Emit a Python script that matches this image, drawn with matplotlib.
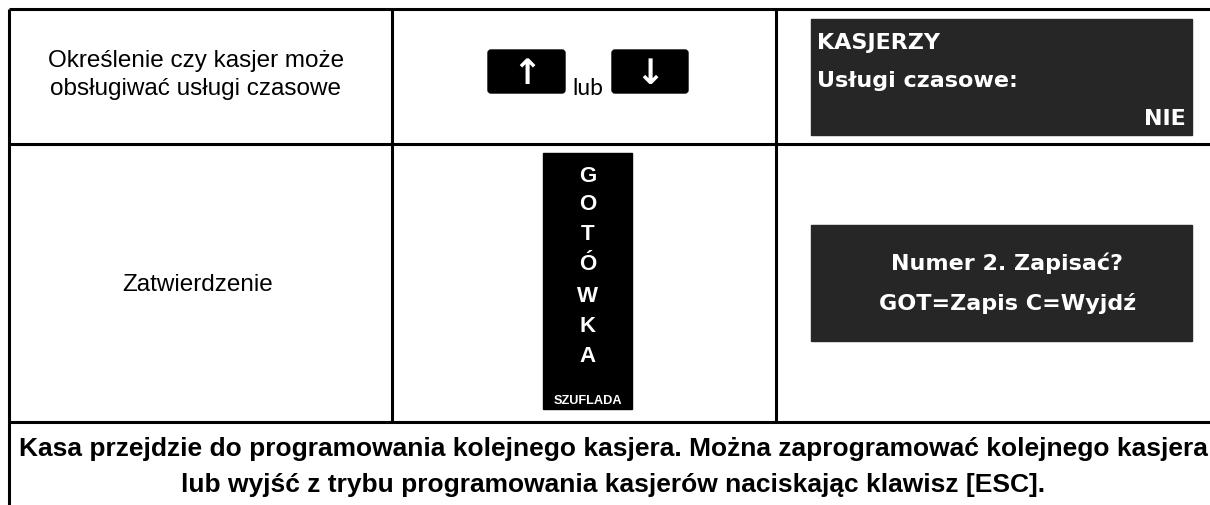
import matplotlib.pyplot as plt
import matplotlib.patches as mpatch

# table content
step_first = ['Określenie czy kasjer może', 'obsługiwać usługi czasowe']
step_second = 'Zatwierdzenie'
key_or = 'lub'
key_arrows = ['↑', '↓']
cash_key_letters = ['G', 'O', 'T', 'Ó', 'W', 'K', 'A']
cash_key_caption = 'SZUFLADA'
lcd_first = ['KASJERZY', 'Usługi czasowe:', 'NIE']
lcd_second = ['Numer 2. Zapisać?', 'GOT=Zapis C=Wyjdź']
footer = ['Kasa przejdzie do programowania kolejnego kasjera. '
          'Można zaprogramować kolejnego kasjera',
          'lub wyjść z trybu programowania kasjerów naciskając klawisz [ESC].']

W, H = 1210, 506
fig = plt.figure(figsize=(W / 100, H / 100), dpi=100)
ax = fig.add_axes([0, 0, 1, 1])
ax.set_xlim(0, W)
ax.set_ylim(H, 0)
ax.axis('off')

arial = 'Liberation Sans'
lcd_font = 'DejaVu Sans'
lcd_bg = '#262626'
lw = 2.2

# grid lines
left, top = 8.5, 10
col1, col2 = 392, 776
row1, row2 = 145, 423
ax.plot([left, W], [top, top], color='black', lw=lw, solid_capstyle='butt')
ax.plot([left, left], [top, H], color='black', lw=lw, solid_capstyle='butt')
for x in (col1, col2):
    ax.plot([x, x], [top, row2], color='black', lw=lw, solid_capstyle='butt')
for y in (row1, row2):
    ax.plot([left, W], [y, y], color='black', lw=lw, solid_capstyle='butt')

# left column
for line, y in zip(step_first, [67, 95]):
    ax.text(196, y, line, family=arial, fontsize=17.5, ha='center',
            va='baseline')
ax.text(198, 291, step_second, family=arial, fontsize=17.5, ha='center',
        va='baseline')

# arrow keys
for (x0, x1), arrow in zip([(488, 565), (612, 688)], key_arrows):
    box = mpatch.FancyBboxPatch((x0, 51), x1 - x0, 43,
                                boxstyle='round,pad=0,rounding_size=3',
                                color='black')
    ax.add_patch(box)
    ax.text((x0 + x1) / 2, 74, arrow, family='DejaVu Sans', weight='bold',
            fontsize=25, color='white', ha='center', va='center')
ax.text(572, 95, key_or, family='Lato', fontsize=16.5, ha='left',
        va='baseline')

# cash key
ax.add_patch(mpatch.Rectangle((543, 154), 89, 256, color='black'))
letter_y = [176, 205, 234, 264, 296, 326, 357]
for ch, y in zip(cash_key_letters, letter_y):
    ax.text(587.5, y, ch, family=arial, weight='bold', fontsize=16,
            color='white', ha='center', va='center')
ax.text(587.5, 401, cash_key_caption, family=arial, weight='bold',
        fontsize=9.2, color='white', ha='center', va='center')

# lcd displays
lcd_size = 16
ax.add_patch(mpatch.Rectangle((811, 20), 381, 116, color=lcd_bg))
ax.text(817, 49, lcd_first[0], family=lcd_font, weight='bold',
        fontsize=lcd_size, color='white', ha='left', va='baseline')
ax.text(817, 87, lcd_first[1], family=lcd_font, weight='bold',
        fontsize=lcd_size, color='white', ha='left', va='baseline')
ax.text(1186, 125, lcd_first[2], family=lcd_font, weight='bold',
        fontsize=lcd_size, color='white', ha='right', va='baseline')

ax.add_patch(mpatch.Rectangle((811, 226), 381, 116, color=lcd_bg))
ax.text(1007, 270, lcd_second[0], family=lcd_font, weight='bold',
        fontsize=lcd_size, color='white', ha='center', va='baseline')
ax.text(1008, 310, lcd_second[1], family=lcd_font, weight='bold',
        fontsize=lcd_size, color='white', ha='center', va='baseline')

# footer
ax.text(613, 456, footer[0], family=arial, weight='bold', fontsize=19,
        ha='center', va='baseline')
ax.text(613, 492, footer[1], family=arial, weight='bold', fontsize=19,
        ha='center', va='baseline')

fig.savefig('out.png', dpi=100)
